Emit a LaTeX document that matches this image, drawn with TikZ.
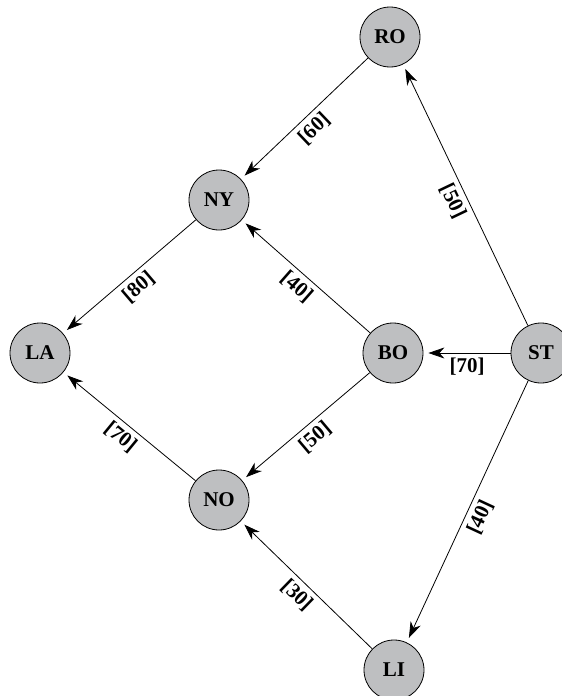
\documentclass[tikz,border=0pt]{standalone}
\usepackage{fontspec}
\setmainfont{Liberation Serif}
\usepackage{tikz}
\usetikzlibrary{arrows.meta}
\definecolor{citygray}{HTML}{BEBFC1}

\begin{document}
\begin{tikzpicture}[
  x=1pt, y=-1pt,
  city/.style={circle, draw, line width=0.8pt, fill=citygray, minimum size=60pt,
    inner sep=0pt, font=\fontsize{21}{24}\selectfont\bfseries},
  route/.style={line width=0.8pt, shorten >=5pt,
    -{Stealth[length=16pt, width=11pt, inset=5pt]}},
  cost/.style={sloped, below, inner sep=5pt, font=\fontsize{21}{24}\selectfont\bfseries}
]
\useasboundingbox (0,0) rectangle (562,696);
\node[city] (RO) at (390,37) {RO};
\node[city] (NY) at (219,200) {NY};
\node[city] (LA) at (40,353) {LA};
\node[city] (BO) at (393,353) {BO};
\node[city] (ST) at (541,353) {ST};
\node[city] (NO) at (219,500) {NO};
\node[city] (LI) at (394,670) {LI};

\draw[route] (RO) -- node[cost] {[60]} (NY);
\draw[route] (ST) -- node[cost] {[50]} (RO);
\draw[route] (NY) -- node[cost] {[80]} (LA);
\draw[route] (BO) -- node[cost] {[40]} (NY);
\draw[route] (ST) -- node[cost] {[70]} (BO);
\draw[route] (BO) -- node[cost] {[50]} (NO);
\draw[route] (NO) -- node[cost] {[70]} (LA);
\draw[route] (ST) -- node[cost] {[40]} (LI);
\draw[route] (LI) -- node[cost] {[30]} (NO);
\end{tikzpicture}
\end{document}
